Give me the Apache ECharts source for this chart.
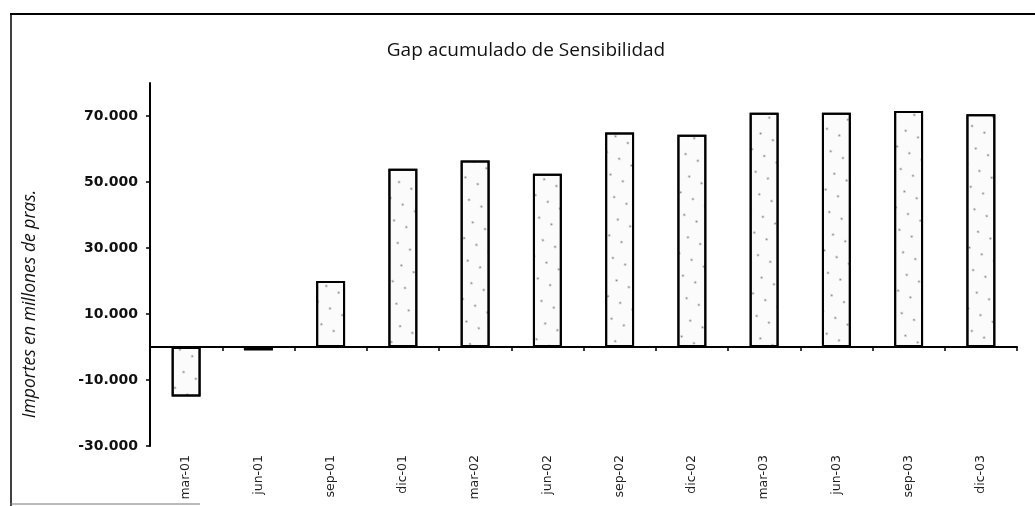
<!DOCTYPE html>
<html>
<head>
<meta charset="utf-8">
<script src="https://cdn.jsdelivr.net/npm/echarts@6/dist/echarts.min.js"></script>
<style>
  html, body { margin: 0; padding: 0; background: #fff; }
  #chart { width: 1035px; height: 506px; }
</style>
</head>
<body>
<div id="chart"></div>
<script>
var periods = ['mar-01', 'jun-01', 'sep-01', 'dic-01', 'mar-02', 'jun-02',
               'sep-02', 'dic-02', 'mar-03', 'jun-03', 'sep-03', 'dic-03'];
var gapValues = [-15000, -1000, 20000, 54000, 56500, 52500,
                 65000, 64300, 71000, 71000, 71500, 70500];
var yTicks = [-30000, -10000, 10000, 30000, 50000, 70000];

var chart = echarts.init(document.getElementById('chart'));
var font = 'Open Sans';

var option = {
    backgroundColor: '#fff',
    animation: false,
    title: {
        text: 'Gap acumulado de Sensibilidad',
        left: 521,
        top: 36,
        textAlign: 'center',
        textStyle: { fontFamily: font, fontSize: 19, fontWeight: 'normal', color: '#111' }
    },
    grid: { left: 150, right: 18, top: 83, bottom: 60 },
    xAxis: [
        {
            type: 'category',
            data: periods,
            axisLine: { onZero: true, lineStyle: { color: '#000', width: 2 } },
            axisTick: { show: true, length: 4, lineStyle: { color: '#000', width: 1.5 } },
            axisLabel: { show: false }
        },
        {
            type: 'category',
            data: periods,
            position: 'bottom',
            axisLine: { show: false, onZero: false },
            axisTick: { show: false },
            axisLabel: {
                rotate: 90,
                margin: 9,
                fontFamily: 'DejaVu Sans',
                fontSize: 12.5,
                color: '#222'
            }
        }
    ],
    yAxis: {
        type: 'value',
        min: -30000,
        max: 80000,
        splitLine: { show: false },
        axisLine: { show: true, lineStyle: { color: '#000', width: 2 } },
        axisTick: { show: true, length: 4, customValues: yTicks, lineStyle: { color: '#000', width: 1.5 } },
        axisLabel: {
            customValues: yTicks,
            margin: 12,
            fontFamily: 'DejaVu Sans',
            fontSize: 14,
            fontWeight: 'bold',
            color: '#111',
            formatter: function (v) {
                var s = Math.abs(v / 1000).toFixed(0) + '.000';
                return (v < 0 ? '-' : '') + s;
            }
        }
    },
    graphic: [
        {
            type: 'text',
            x: 30,
            y: 304,
            rotation: Math.PI / 2,
            style: {
                text: 'Importes en millones de pras.',
                fontFamily: font,
                fontStyle: 'italic',
                fontSize: 17.5,
                fill: '#111',
                align: 'center',
                verticalAlign: 'middle'
            }
        },
        { type: 'line', shape: { x1: 10, y1: 14, x2: 1035, y2: 14 }, style: { stroke: '#000', lineWidth: 2 } },
        { type: 'line', shape: { x1: 11, y1: 14, x2: 11, y2: 506 }, style: { stroke: '#000', lineWidth: 1.5 } },
        { type: 'line', shape: { x1: 10, y1: 504, x2: 200, y2: 504 }, style: { stroke: '#777', lineWidth: 1 } }
    ],
    series: [
        {
            type: 'bar',
            data: gapValues,
            barWidth: '40%',
            itemStyle: {
                color: '#fbfbfb',
                borderColor: '#000',
                borderWidth: 2,
                decal: {
                    symbol: 'circle',
                    symbolSize: 0.3,
                    color: 'rgba(0,0,0,0.5)',
                    dashArrayX: 7,
                    dashArrayY: 9,
                    rotation: 0.5
                }
            }
        }
    ]
};

chart.setOption(option);
window.onresize = chart.resize;
</script>
</body>
</html>
